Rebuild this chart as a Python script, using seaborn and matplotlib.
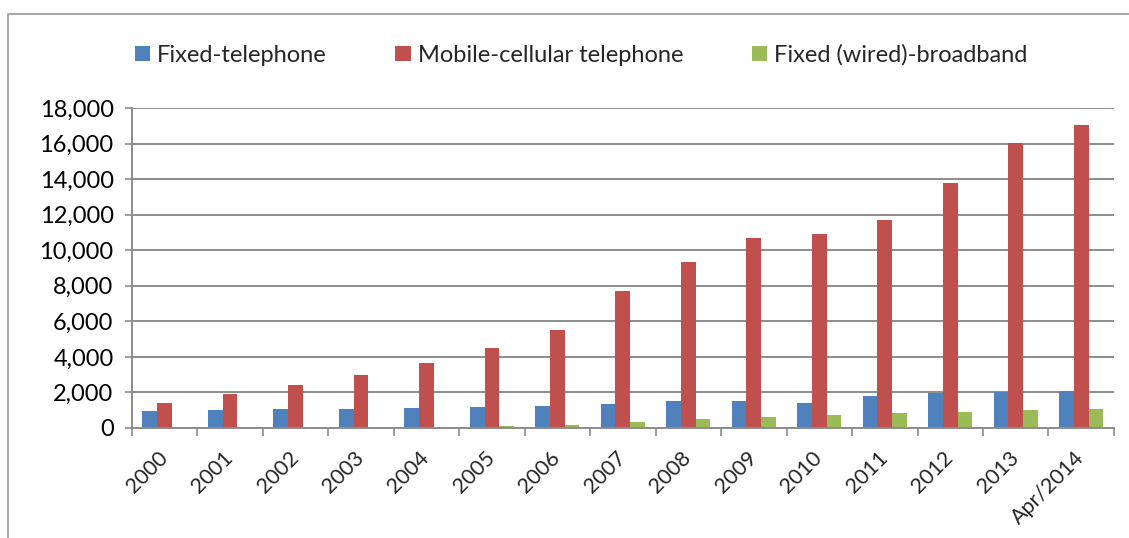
import pandas as pd
import matplotlib.pyplot as plt
import matplotlib.transforms as mtransforms
import seaborn as sns
from matplotlib.patches import Rectangle
from matplotlib.ticker import FuncFormatter, FixedLocator

years = ['2000', '2001', '2002', '2003', '2004', '2005', '2006', '2007',
         '2008', '2009', '2010', '2011', '2012', '2013', 'Apr/2014']
fixed_tel = [975, 1014, 1048, 1088, 1145, 1200, 1260, 1340, 1530, 1510, 1420, 1780, 1940, 2040, 2080]
mobile_tel = [1425, 1898, 2405, 2969, 3680, 4524, 5521, 7718, 9352, 10665, 10930, 11718, 13786, 16056, 17070]
broadband = [5, 10, 15, 25, 45, 90, 186, 355, 525, 640, 750, 850, 920, 1000, 1040]
series = ['Fixed-telephone', 'Mobile-cellular telephone', 'Fixed (wired)-broadband']
colors = ['#4F81BD', '#C0504D', '#9BBB59']

rows = []
for name, vals in zip(series, [fixed_tel, mobile_tel, broadband]):
    for y, v in zip(years, vals):
        rows.append({'year': y, 'series': name, 'value': v})
df = pd.DataFrame(rows)

sns.set_style('white')
plt.rcParams['font.family'] = ['Lato', 'DejaVu Sans']

fig = plt.figure(figsize=(11.29, 5.38), dpi=100)
ax = fig.add_axes([0.1166, 0.2045, 0.8701, 0.5948])

sns.barplot(data=df, x='year', y='value', hue='series', palette=colors,
            width=0.67, gap=0, saturation=1, linewidth=0, ax=ax, legend=True)

grid_c = '#8C8C8C'
ax.set_ylim(0, 18000)
ax.set_xlim(-0.5, len(years) - 0.5)
ax.set_yticks(range(0, 18001, 2000))
ax.yaxis.set_major_formatter(FuncFormatter(lambda v, p: f'{int(v):,}'))
ax.yaxis.grid(True, color=grid_c, linewidth=1.4)
ax.set_axisbelow(True)
ax.set_xlabel('')
ax.set_ylabel('')

for s in ['top', 'right']:
    ax.spines[s].set_visible(False)
for s in ['left', 'bottom']:
    ax.spines[s].set_color(grid_c)
    ax.spines[s].set_linewidth(1.4)

ax.tick_params(axis='y', left=True, length=5, width=1.2, color=grid_c,
               labelsize=17, pad=8, labelcolor='black')
ax.set_xticks(range(len(years)))
ax.set_xticklabels(years, rotation=45, ha='right', va='top', fontsize=15.5)
ax.tick_params(axis='x', which='major', length=0, pad=14)
ax.xaxis.set_minor_locator(FixedLocator([i - 0.5 for i in range(len(years) + 1)]))
ax.tick_params(axis='x', which='minor', bottom=True, length=6, width=1.2, color=grid_c)
shift = mtransforms.ScaledTranslation(0.07, 0, fig.dpi_scale_trans)
for lbl in ax.get_xticklabels():
    lbl.set_transform(lbl.get_transform() + shift)

handles, labels = ax.get_legend_handles_labels()
ax.legend(handles, labels, loc='center', bbox_to_anchor=(0.4575, 1.166), ncol=3,
          frameon=False, fontsize=17, handlelength=0.64, handleheight=0.6,
          handletextpad=0.3, columnspacing=2.9)

fig.add_artist(Rectangle((8 / 1129, -0.2), 1.2, 1.2 - 14 / 538,
                         transform=fig.transFigure, fill=False,
                         edgecolor='#9A9A9A', linewidth=1.2))

fig.savefig('out.png', dpi=100)
